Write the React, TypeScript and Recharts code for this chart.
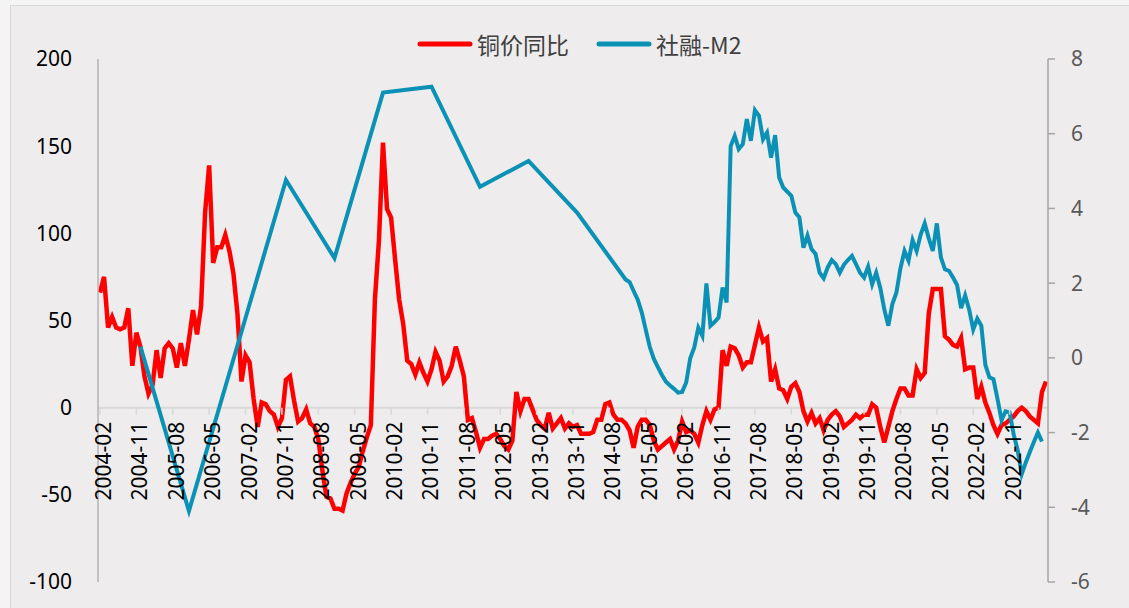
import React from 'react';
import { LineChart, Line, XAxis, YAxis, ReferenceLine, Legend } from 'recharts';

// 铜价同比 (%), monthly from 2004-02
const copperYoY = [
  66, 75, 46, 52, 46, 45, 46, 57, 24, 43, 35, 18,
  8, 13, 33, 17, 34, 37, 34, 23, 37, 24, 39, 56,
  42, 58, 112, 139, 83, 92, 92, 99, 90, 77, 54, 15,
  30, 26, 5, -11, 3, 2, -2, -4, -11, -6, 16, 18,
  4, -8, -6, -1, -9, -11, -18, -36, -51, -52, -58, -58,
  -59, -49, -43, -38, -34, -25, -17, -10, 62, 96, 152, 114,
  109, 85, 62, 48, 27, 25, 19, 26, 20, 15, 22, 32,
  27, 15, 18, 24, 35, 27, 18, -7, -6, -14, -23, -18,
  -18, -16, -15, -18, -22, -24, -19, 9, -2, 5, 5, -1,
  -7, -10, -12, -3, -12, -9, -6, -12, -9, -11, -10, -15,
  -15, -15, -14, -7, -7, 2, 3, -4, -7, -7, -9, -13,
  -23, -11, -7, -7, -10, -19, -24, -22, -20, -18, -24, -19,
  -8, -14, -13, -15, -20, -10, -2, -7, -1, 0, 33, 24,
  35, 34, 30, 23, 26, 26, 36, 46, 38, 40, 15, 22,
  11, 10, 5, 12, 14, 9, -2, -8, -3, -9, -6, -13,
  -7, -4, -2, -5, -11, -9, -7, -4, -6, -4, -4, 2,
  0, -11, -20, -11, -2, 5, 11, 11, 7, 7, 22, 17,
  20, 54, 68, 68, 68, 41, 39, 36, 35, 40, 22, 23,
  23, 5, 12, 3, -3, -10, -15, -10, -9, -7, -5, -2,
  0, -2, -5, -7, -9, 9, 15,
];

// 社融-M2: only year-end values before 2015
const tsfAnnualMonths = ['2004-12', '2005-12', '2007-12', '2008-12', '2009-12', '2010-12', '2011-12', '2012-12', '2013-12', '2014-12'];
const tsfAnnualValues = [0.3, -4.1, 4.76, 2.67, 7.1, 7.26, 4.58, 5.27, 3.89, 2.1];

// 社融-M2: monthly from 2015-01
const tsfMonthlyStart = '2015-01';
const tsfMonthly = [
  2.03, 1.79, 1.56, 1.22, 0.75, 0.29, -0.03, -0.25, -0.46, -0.64, -0.74, -0.83,
  -0.93, -0.91, -0.66, -0.01, 0.28, 0.81, 0.59, 1.99, 0.86, 0.96, 1.08, 1.88,
  1.48, 5.67, 5.94, 5.59, 5.72, 6.39, 5.81, 6.63, 6.48, 5.85, 6.03, 5.36,
  5.96, 4.83, 4.56, 4.45, 4.34, 3.89, 3.76, 2.95, 3.27, 2.91, 2.78, 2.28,
  2.13, 2.42, 2.62, 2.51, 2.28, 2.49, 2.62, 2.73, 2.51, 2.28, 2.15, 2.44,
  1.97, 2.28, 1.88, 1.3, 0.86, 1.44, 1.75, 2.4, 2.86, 2.6, 3.15, 2.86,
  3.3, 3.6, 3.2, 2.86, 3.6, 2.69, 2.37, 2.33, 2.15, 1.95, 1.33, 1.67,
  1.29, 0.76, 1.05, 0.86, -0.19, -0.52, -0.57, -1.1, -1.67, -1.43, -1.46, -2.05,
  -2.48, -3.11, -2.8, -2.52, -2.25, -2.0, -2.24,
];

const seriesNames = ['铜价同比', '社融-M2'];

const xTicks = [
  '2004-02', '2004-11', '2005-08', '2006-05', '2007-02', '2007-11', '2008-08',
  '2009-05', '2010-02', '2010-11', '2011-08', '2012-05', '2013-02', '2013-11',
  '2014-08', '2015-05', '2016-02', '2016-11', '2017-08', '2018-05', '2019-02',
  '2019-11', '2020-08', '2021-05', '2022-02', '2022-11',
];
const leftTicks = [-100, -50, 0, 50, 100, 150, 200];
const rightTicks = [-6, -4, -2, 0, 2, 4, 6, 8];

const months = copperYoY.map((_, i) => {
  const m = 1 + i; // 2004-02 is month index 1 of 2004
  return `${2004 + Math.floor(m / 12)}-${String((m % 12) + 1).padStart(2, '0')}`;
});
const monthlyOffset = months.indexOf(tsfMonthlyStart);

const data = months.map((month, i) => {
  const a = tsfAnnualMonths.indexOf(month);
  let tsf: number | null = null;
  if (a >= 0) tsf = tsfAnnualValues[a];
  else if (i >= monthlyOffset && i - monthlyOffset < tsfMonthly.length) tsf = tsfMonthly[i - monthlyOffset];
  return { month, copper: copperYoY[i], tsf };
});

const W = 1129;
const H = 608;
const PLOT_TOP = 59;
const PLOT_BOTTOM = 582;
const LEFT_MIN = -100;
const LEFT_MAX = 200;
const ZERO_Y = PLOT_TOP + ((PLOT_BOTTOM - PLOT_TOP) * LEFT_MAX) / (LEFT_MAX - LEFT_MIN);

const NUM_FONT = '"Noto Sans", sans-serif';
const CJK_FONT = '"Noto Sans CJK SC", sans-serif';

function XTick(props: any) {
  const { x, payload } = props;
  return (
    <g>
      <line x1={x} x2={x} y1={ZERO_Y} y2={ZERO_Y + 7} stroke="#D9D9D9" strokeWidth={1.5} />
      <text
        transform={`translate(${x + 11},${ZERO_Y + 14}) rotate(-90)`}
        textAnchor="end"
        fontSize={21}
        fontFamily={NUM_FONT}
        fill="#000"
      >
        {payload.value}
      </text>
    </g>
  );
}

function renderLegend(props: any) {
  const items = [...(props.payload || [])].sort(
    (a: any, b: any) => seriesNames.indexOf(a.value) - seriesNames.indexOf(b.value)
  );
  return (
    <div style={{ display: 'flex', alignItems: 'center', height: 26 }}>
      {items.map((p: any, k: number) => (
        <div key={k} style={{ display: 'flex', alignItems: 'center', marginRight: k === 0 ? 27 : 0 }}>
          <svg width={56} height={8}>
            <line x1={3} y1={4} x2={53} y2={4} stroke={p.color} strokeWidth={5} strokeLinecap="round" />
          </svg>
          <span style={{ marginLeft: 4, fontFamily: CJK_FONT, fontSize: 23, color: '#404040', lineHeight: '26px' }}>
            {p.value}
          </span>
        </div>
      ))}
    </div>
  );
}

export default function App() {
  return (
    <div style={{ position: 'absolute', left: 0, top: 0, width: W, height: H, background: '#F4F4F4', overflow: 'hidden' }}>
      <div
        style={{
          position: 'absolute',
          left: 10,
          top: 5,
          width: W,
          height: H,
          background: '#EEECED',
          borderLeft: '1.5px solid #D8D8D8',
          borderTop: '1.5px solid #D8D8D8',
        }}
      />
      <div style={{ position: 'absolute', left: 0, top: 0 }}>
        <LineChart width={W} height={H} data={data} margin={{ top: PLOT_TOP, right: 0, bottom: H - PLOT_BOTTOM - 1, left: 0 }}>
          <XAxis
            dataKey="month"
            ticks={xTicks}
            interval={0}
            tick={(p: any) => <XTick {...p} />}
            axisLine={false}
            tickLine={false}
            height={1}
            padding={{ left: 2, right: 2 }}
          />
          <YAxis
            yAxisId="left"
            domain={[LEFT_MIN, LEFT_MAX]}
            ticks={leftTicks}
            width={98}
            tickLine={false}
            tickSize={6}
            tickMargin={20}
            axisLine={{ stroke: '#B4B4B4', strokeWidth: 1.5 }}
            tick={{ fill: '#000', fontSize: 21, fontFamily: NUM_FONT }}
          />
          <YAxis
            yAxisId="right"
            orientation="right"
            domain={[-6, 8]}
            ticks={rightTicks}
            width={W - 1048}
            tickSize={7}
            tickMargin={16}
            tickLine={{ stroke: '#A6A6A6', strokeWidth: 1.5 }}
            axisLine={{ stroke: '#A6A6A6', strokeWidth: 1.5 }}
            tick={{ fill: '#595959', fontSize: 21, fontFamily: NUM_FONT }}
          />
          <ReferenceLine yAxisId="left" y={0} stroke="#D9D9D9" strokeWidth={2} />
          <Legend
            verticalAlign="middle"
            align="center"
            layout="horizontal"
            wrapperStyle={{ top: 31, left: 417, width: 420 }}
            content={renderLegend}
          />
          <Line
            yAxisId="left"
            type="linear"
            dataKey="copper"
            name={seriesNames[0]}
            stroke="#FF0000"
            strokeWidth={4.5}
            dot={false}
            isAnimationActive={false}
          />
          <Line
            yAxisId="right"
            type="linear"
            dataKey="tsf"
            name={seriesNames[1]}
            stroke="#0A91B5"
            strokeWidth={4}
            dot={false}
            connectNulls
            isAnimationActive={false}
          />
        </LineChart>
      </div>
    </div>
  );
}
